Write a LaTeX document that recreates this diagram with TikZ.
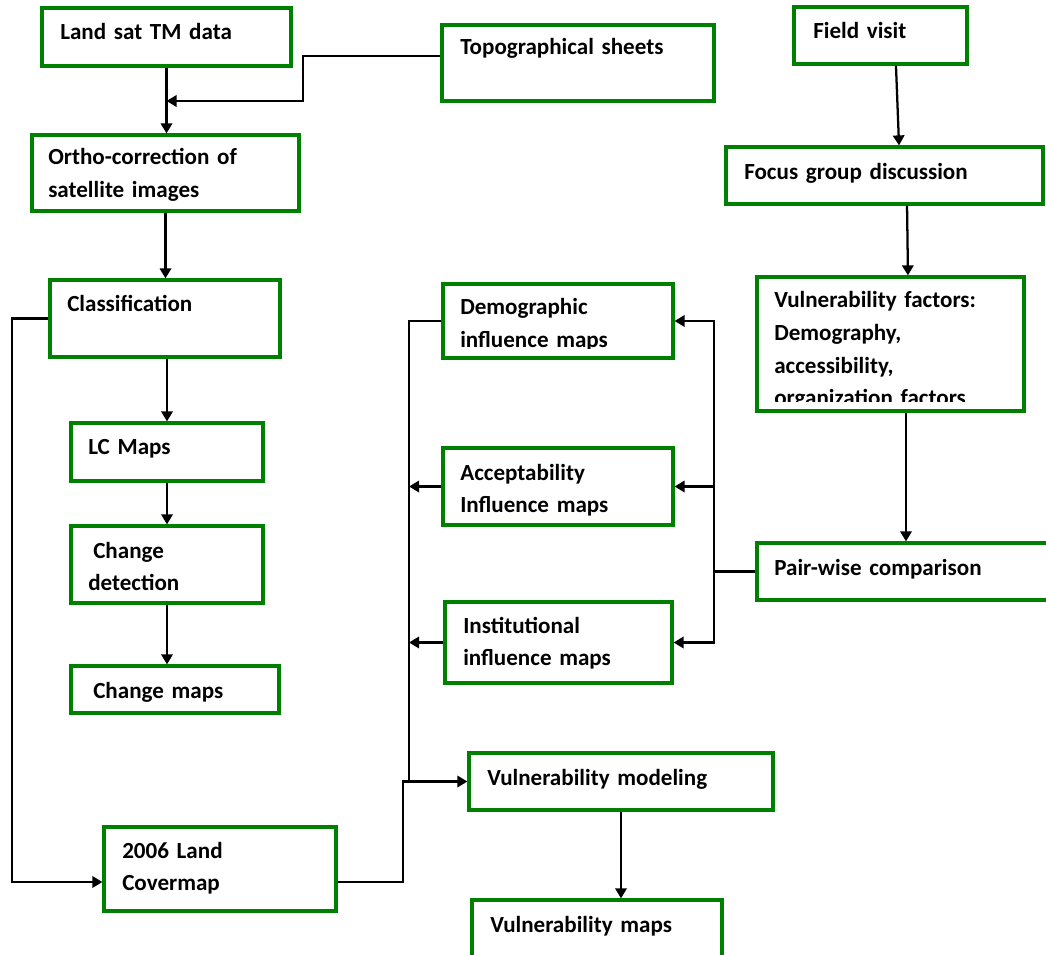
\documentclass[tikz,border=0pt]{standalone}
\usepackage{fontspec}
\setmainfont{Carlito}
\usetikzlibrary{arrows.meta,fit,calc}
\definecolor{boxgreen}{RGB}{0,128,0}

\begin{document}
\begin{tikzpicture}[x=0.75pt,y=-0.75pt,
    box/.style={draw=boxgreen, line width=2.4pt, inner sep=0pt},
    txt/.style={anchor=base west, inner sep=0pt, text width=300pt, align=left,
                font=\bfseries\fontsize{17.3}{24.4}\selectfont},
    line/.style={line width=1.7pt, black},
    arr/.style={line, -{Triangle[length=7.5pt,width=8.5pt]}},
]
\useasboundingbox (0,0) rectangle (1046,955);
\clip (0,0) rectangle (1046,955);

% Left column: image processing
\node[box, fit={(42,8) (291,66)}] (land) {};
\node[txt] (landT) at (60,40) {Land sat TM data};
\node[box, fit={(442,25) (714,101)}] (topo) {};
\node[txt] (topoT) at (460,55) {Topographical sheets};
\node[box, fit={(32,135) (299,211)}] (ortho) {};
\node[txt] (orthoT) at (48,165) {Ortho-correction of\\satellite images};
\node[box, fit={(50,280) (280,357)}] (class) {};
\node[txt] (classT) at (67,312) {Classification};
\node[box, fit={(71,423) (263,481)}] (lc) {};
\node[txt] (lcT) at (88,455) {LC Maps};
\node[box, fit={(71,526) (263,603)}] (chdet) {};
\node[txt] (chdetT) at (88,558) {\hspace{3.75pt}Change\\detection};
\node[box, fit={(71,666) (279,713)}] (chmap) {};
\node[txt] (chmapT) at (93,698) {Change maps};
\node[box, fit={(104,827) (336,911)}] (lcover) {};
\node[txt] (lcoverT) at (122,858) {2006 Land\\Covermap};

% Right column: field work
\node[box, fit={(794,7) (967,64)}] (field) {};
\node[txt] (fieldT) at (813,39) {Field visit};
\node[box, fit={(726,147) (1043,204)}] (focus) {};
\node[txt] (focusT) at (744,180) {Focus group discussion};
\node[box, fit={(757,277) (1024,411)}] (vf) {};
\begin{scope}
  \clip (757,277) rectangle (1024,402);
  \node[txt] (vfT) at (774,308) {Vulnerability factors:\\Demography,\\accessibility,\\organization factors};
\end{scope}
\node[box, fit={(757,543) (1055,600)}] (pair) {};
\node[txt] (pairT) at (774,575) {Pair-wise comparison};

% Middle: influence maps and modeling
\node[box, fit={(443,284) (673,358)}] (dem) {};
\begin{scope}
  \clip (443,284) rectangle (673,349);
  \node[txt] (demT) at (460,315) {Demographic\\influence maps};
\end{scope}
\node[box, fit={(443,448) (673,525)}] (acc) {};
\node[txt] (accT) at (460,480) {Acceptability\\Influence maps};
\node[box, fit={(445,602) (672,683)}] (inst) {};
\node[txt] (instT) at (463,633) {Institutional\\influence maps};
\node[box, fit={(469,753) (773,810)}] (vmod) {};
\node[txt] (vmodT) at (487,785) {Vulnerability modeling};
\node[box, fit={(472,900) (722,970)}] (vmap) {};
\node[txt] (vmapT) at (490,932) {Vulnerability maps};

% Connectors
\coordinate (join1) at (166.5,101);
\coordinate (jn) at (409,781.5);
\coordinate (hub) at (714,571.5);
\draw[arr] (land.south) -- (land.south |- ortho.north);
\draw[arr] ([yshift=5pt]topo.west) -| (303,101) -- (join1);
\draw[arr] (ortho.south) -- (ortho.south |- class.north);
\draw[arr] (lc.north |- class.south) -- (lc.north);
\draw[arr] (lc.south) -- (chdet.north);
\draw[arr] (chdet.south) -- (chdet.south |- chmap.north);
\draw[arr] (class.west) -- (12,318.5) |- ([yshift=-9.75pt]lcover.west);
\draw[arr] ([yshift=-9.75pt]lcover.east) -| (403,781.5) -- (vmod.west);

\draw[arr] ([xshift=11.6pt]field.south) -- ([xshift=10.9pt]focus.north);
\draw[arr] ([xshift=16.9pt]focus.south) -- ([xshift=13.1pt]vf.north);
\draw[arr] (vf.south -| pair.north) -- (pair.north);

\draw[line] (dem.west) -| (jn);
\draw[arr] (acc.west) -- (acc.west -| jn);
\draw[arr] (inst.west) -- (inst.west -| jn);
\draw[line] (pair.west) -- (hub);
\draw[arr] (hub) |- (dem.east);
\draw[arr] (hub) |- (acc.east);
\draw[arr] (hub) |- (inst.east);
\draw[arr] (vmod.south) -- (vmod.south |- vmap.north);
\end{tikzpicture}
\end{document}
